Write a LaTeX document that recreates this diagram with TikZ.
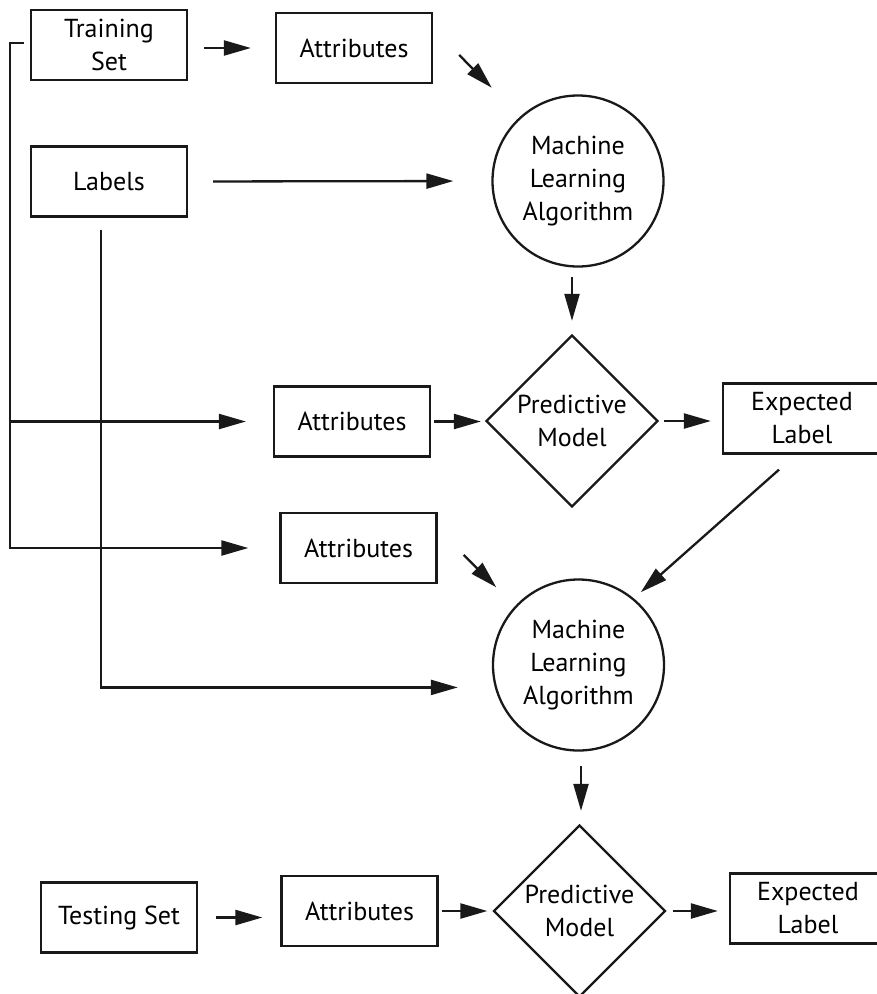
\documentclass[tikz,border=0pt]{standalone}
\usepackage{fontspec}
\setmainfont{PT Sans}
\usetikzlibrary{shapes.geometric,arrows.meta,calc}

\tikzset{
  every node/.style={font=\fontsize{26}{33}\selectfont, align=center},
  stroke/.style={line width=2.3pt, draw=black!90},
  box/.style={stroke, rectangle, minimum width=156pt, minimum height=70pt, inner sep=2pt},
  algo/.style={stroke, circle, minimum size=171pt, inner sep=0pt},
  model/.style={stroke, diamond, aspect=1, minimum width=172pt, minimum height=172pt, inner sep=-8pt},
  flow/.style={line width=2.3pt, draw=black!90},
  arr/.style={flow, -{Triangle[length=27pt,width=15pt]}},
}

\begin{document}
\begin{tikzpicture}[x=1pt,y=-1pt]
  \clip (0,0) rectangle (877,994);

  % training stage
  \node[box] (train)  at (109,45)   {Training\\Set};
  \node[box] (attr1)  at (354,48)   {Attributes};
  \node[box] (labels) at (109,181.5){Labels};
  \node[algo] (ml1)   at (578,181)  {Machine\\Learning\\Algorithm};
  \node[model] (pm1)  at (572,421)  {Predictive\\Model};
  \node[box] (attr2)  at (352,421.5){Attributes};
  \node[box, minimum width=158pt] (exp1) at (802,418.5) {Expected\\Label};

  % second learning stage
  \node[box] (attr3)  at (358.5,548){Attributes};
  \node[algo] (ml2)   at (578.5,665){Machine\\Learning\\Algorithm};

  % testing stage
  \node[model] (pm2)  at (579.5,911){Predictive\\Model};
  \node[box] (test)   at (119,917.5){Testing Set};
  \node[box] (attr4)  at (359.5,911){Attributes};
  \node[box] (exp2)   at (808,908.5){Expected\\Label};

  % training set feeds the attribute boxes through the left bus
  \draw[arr, shorten >=31pt]
    ([xshift=-6pt,yshift=2pt]train.west) -| ([xshift=-20pt]train.west |- attr3.west) -- (attr3.west);
  \draw[arr, shorten >=27pt] ([xshift=-20pt]train.west |- attr2.west) -- (attr2.west);

  % labels run down to the second algorithm
  \draw[arr, shorten >=37pt] ([xshift=-8pt,yshift=-12pt]labels.south) |- (ml2.195);

  % top row
  \draw[arr, shorten <=16pt, shorten >=24pt] (train.east |- attr1.west) -- (attr1.west);
  \draw[arr] ([xshift=26pt,yshift=-7pt]attr1.east) -- ([xshift=-25pt,yshift=32pt]ml1.north west);
  \draw[arr, shorten <=25pt, shorten >=38pt] (labels.east) -- (ml1.west);
  \draw[arr, shorten <=9pt, shorten >=13pt] (pm1.north |- ml1.south) -- (pm1.north);

  % first prediction
  \draw[arr, shorten <=3pt, shorten >=4pt] (attr2.east) -- (attr2.east -| pm1.west);
  \draw[arr, shorten <=5pt, shorten >=11pt] (pm1.east) -- (pm1.east -| exp1.west);

  % inputs to the second algorithm
  \draw[arr] ([xshift=-23pt,yshift=-15pt]exp1.south) -- ([xshift=1pt,yshift=11.5pt]ml2.north east);
  \draw[arr] ([xshift=26pt,yshift=-7pt]attr3.east) -- ([xshift=-21pt,yshift=16.5pt]ml2.north west);
  \draw[arr, shorten <=14.5pt, shorten >=13pt] ([xshift=1.5pt]pm2.north |- ml2.south) -- ([xshift=1.5pt]pm2.north);

  % testing row
  \draw[arr, shorten <=18pt, shorten >=18pt] (test.east) -- (test.east -| attr4.west);
  \draw[arr, shorten <=3pt, shorten >=5pt] (attr4.east) -- (attr4.east -| pm2.west);
  \draw[arr, shorten <=6pt, shorten >=11pt] (pm2.east) -- (pm2.east -| exp2.west);
\end{tikzpicture}
\end{document}
